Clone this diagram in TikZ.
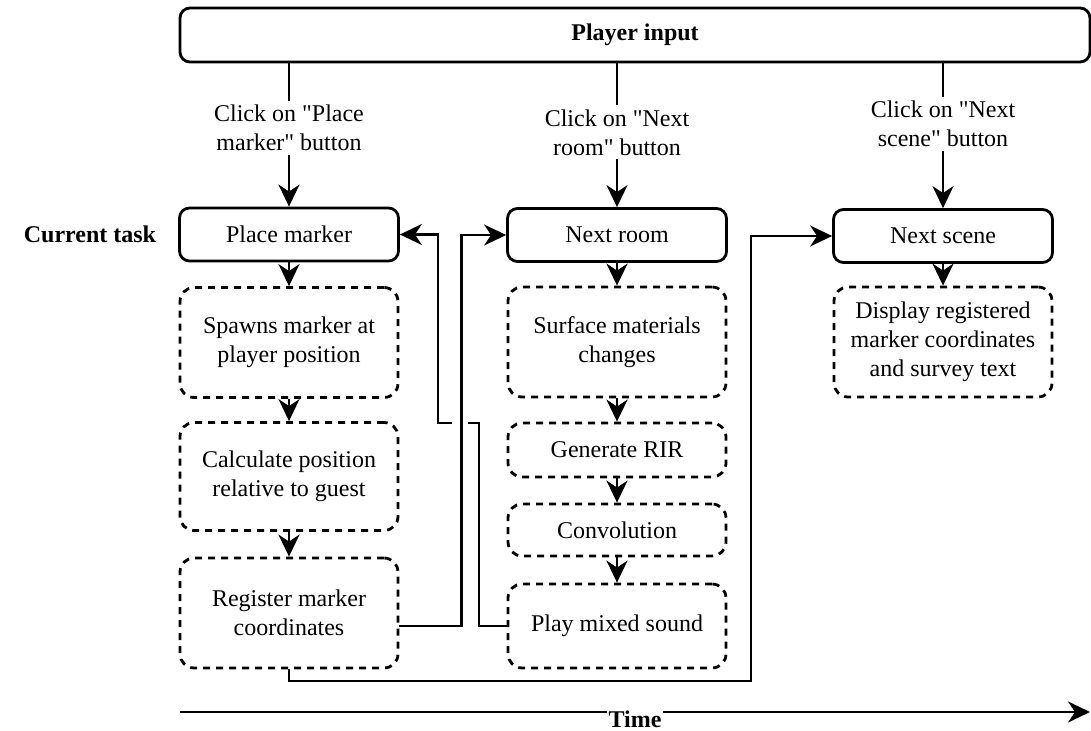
\documentclass[tikz,border=0pt]{standalone}
\usepackage{fontspec}
\setmainfont[Ligatures = TeXOff]{Liberation Serif}
\usetikzlibrary{arrows.meta}

\tikzset{
	task/.style = {draw, rounded corners = 5pt, minimum width = 109.5pt, minimum height = 26.5pt, align = center},
	action/.style = {draw, dash pattern = on 3.5pt off 3pt, rounded corners = 7pt, minimum width = 109pt, align = center},
	click/.style = {fill = white, inner sep = 2pt, align = center}
}

\begin{document}
\begin{tikzpicture}[x = 0.5pt, y = -0.5pt, > = {Stealth[length = 11pt, width = 10.5pt, inset = 3.5pt]}, line width = 1.4pt, font = \fontsize{12}{14.5}\selectfont]

	\useasboundingbox (0, 0) rectangle (1091, 731);

	% Player input

	\node [task, minimum width = 455pt, minimum height = 27pt] (input) at (635, 35) {\textbf{Player input}};

	% Current tasks

	\node (tasklabel) at (90, 234) {\textbf{Current task}};

	\node [task] (place) at (289, 234.5) {Place marker};
	\node [task] (room) at (617, 235) {Next room};
	\node [task] (scene) at (943, 236) {Next scene};

	% Actions of each task

	\node [action, minimum height = 55pt] (spawn) at (289, 342.5) {Spawns marker at\\player position};
	\node [action, minimum height = 54pt] (calc) at (289, 476.5) {Calculate position\\relative to guest};
	\node [action, minimum height = 55pt] (register) at (289, 613) {Register marker\\coordinates};

	\node [action, minimum height = 55pt] (surface) at (617, 342) {Surface materials\\changes};
	\node [action, minimum height = 27pt] (rir) at (617, 450) {Generate RIR};
	\node [action, minimum height = 26pt] (conv) at (617, 530) {Convolution};
	\node [action, minimum height = 42pt] (play) at (617, 626) {Play mixed sound};

	\node [action, minimum height = 55pt] (display) at (943, 342) {Display registered\\marker coordinates\\and survey text};

	% Player clicks

	\foreach \task/\txt/\p in {place/{Click on "Place\\marker" button}/0.45, room/{Click on "Next\\room" button}/0.48, scene/{Click on "Next\\scene" button}/0.42}
		\draw [->] (\task |- input.south) -- node [click, pos = \p] {\txt} (\task.north);

	% Flow inside each task

	\foreach \a/\b in {place/spawn, spawn/calc, calc/register, room/surface, surface/rir, rir/conv, conv/play, scene/display}
		\draw [->] (\a.south) -- (\b.north);

	% Links between tasks

	\coordinate (hopR) at (468, 423);	% Line jump
	\coordinate (hopL) at (452, 423);

	\draw (play.west) -| (479, 423) -- (hopR);
	\draw [->] (hopL) -- (438, 423) |- (place.east);

	\draw [->] (register.east |- play.west) -- ++(62, 0) |- (room.west);
	\draw [->] (register.south) |- (751, 681) |- (scene.west);

	% Time axis

	\coordinate (t0) at (180, 712);
	\coordinate (t1) at (1090, 712);
	\draw [->] (t0) -- node [fill = white, inner sep = 1pt, yshift = -3.5pt] {\textbf{Time}} (t1);

\end{tikzpicture}
\end{document}
